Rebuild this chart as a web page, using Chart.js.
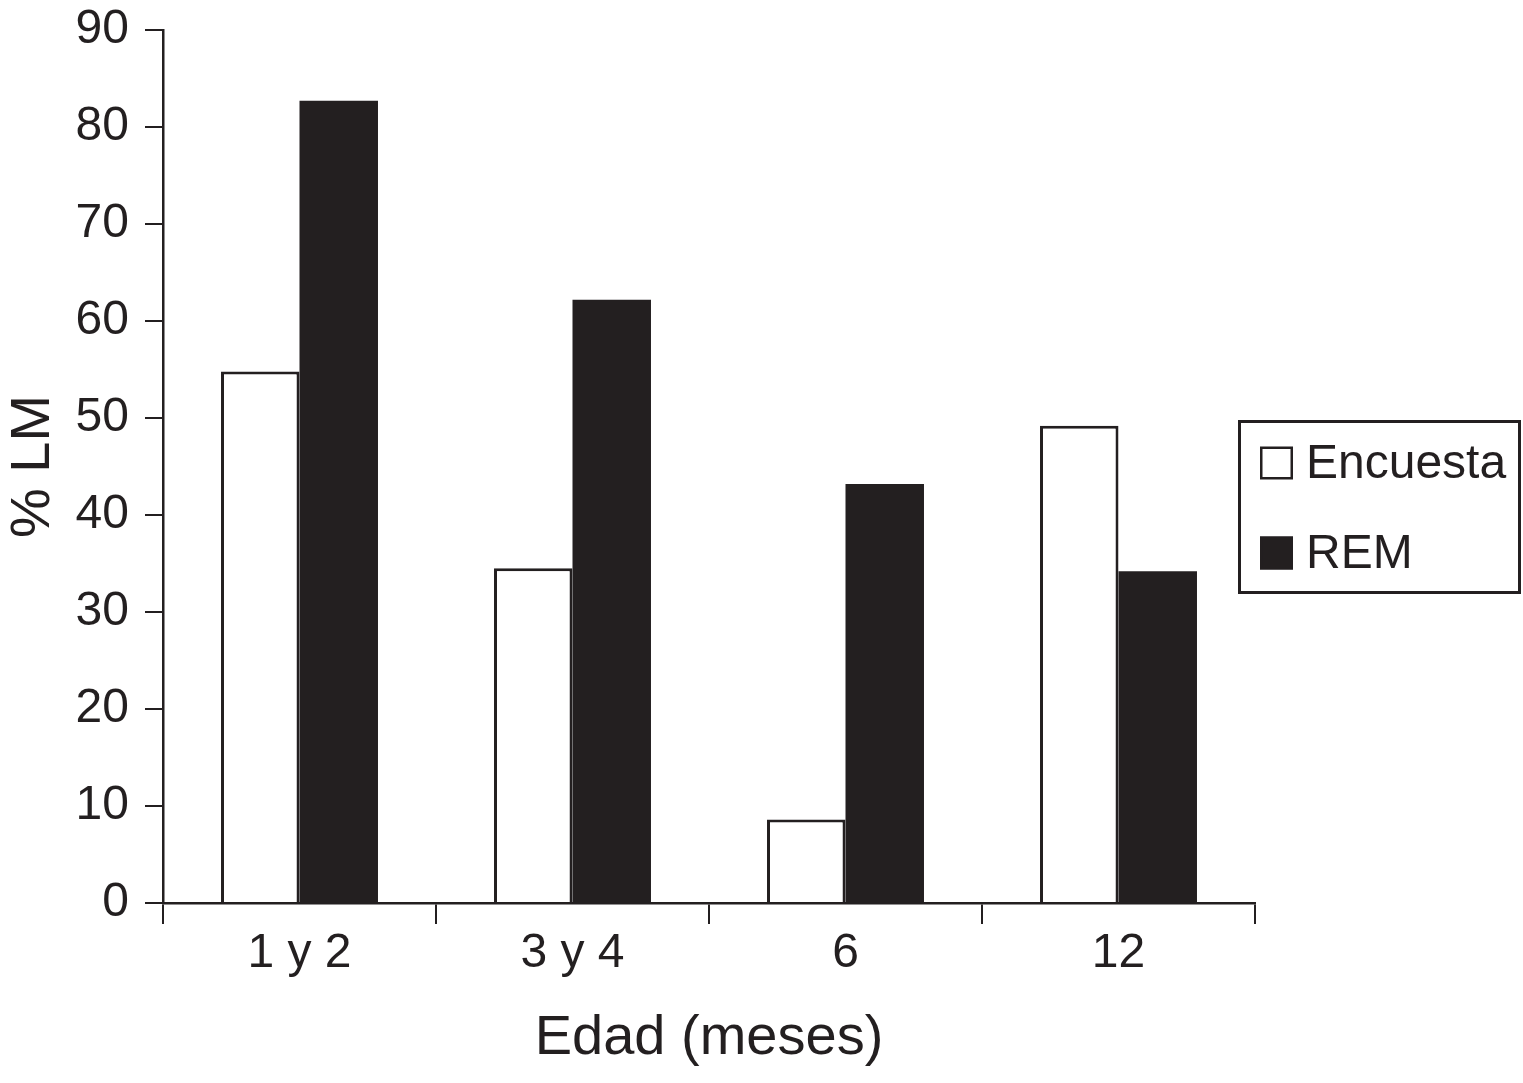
<!DOCTYPE html>
<html>
<head>
<meta charset="utf-8">
<script src="https://cdn.jsdelivr.net/npm/chart.js@4/dist/chart.umd.min.js"></script>
<style>
  html, body { margin: 0; padding: 0; background: #ffffff; }
  #wrap { width: 1523px; height: 1083px; }
</style>
</head>
<body>
<div id="wrap"><canvas id="c" width="1523" height="1083"></canvas></div>
<script>
const categories = ["1 y 2", "3 y 4", "6", "12"];
const seriesNames = ["Encuesta", "REM"];
const encuestaValues = [54.8, 34.5, 8.6, 49.2];
const remValues = [82.7, 62.2, 43.2, 34.2];
const yTickValues = [0, 10, 20, 30, 40, 50, 60, 70, 80, 90];
const xAxisTitle = "Edad (meses)";
const yAxisTitle = "% LM";

const INK = "#231f20";
const FONT = "'Liberation Sans', Arial, Helvetica, sans-serif";

const boxLegend = {
  id: "boxLegend",
  afterDraw(chart) {
    const ctx = chart.ctx;
    const ca = chart.chartArea;
    const left = ca.right - 17;
    const top = ca.top + 390;
    const w = 283, h = 174;
    ctx.save();
    ctx.lineWidth = 3;
    ctx.strokeStyle = INK;
    ctx.strokeRect(left + 1.5, top + 1.5, w - 3, h - 3);
    ctx.font = "48px " + FONT;
    ctx.textBaseline = "middle";
    ctx.textAlign = "left";
    chart.data.datasets.forEach((ds, i) => {
      const cy = top + 43 + i * 90;
      const mx = left + 22, ms = 33;
      ctx.fillStyle = ds.backgroundColor;
      ctx.fillRect(mx, cy - ms / 2, ms, ms);
      ctx.lineWidth = 2.5;
      ctx.strokeStyle = INK;
      ctx.strokeRect(mx + 1.25, cy - ms / 2 + 1.25, ms - 2.5, ms - 2.5);
      ctx.fillStyle = INK;
      ctx.fillText(ds.label, left + 68, cy + 2);
    });
    ctx.restore();
  }
};

new Chart(document.getElementById("c"), {
  type: "bar",
  data: {
    labels: categories,
    datasets: [
      {
        label: seriesNames[0],
        data: encuestaValues,
        backgroundColor: "#ffffff",
        borderColor: INK,
        borderWidth: 3,
        borderSkipped: "bottom"
      },
      {
        label: seriesNames[1],
        data: remValues,
        backgroundColor: INK,
        borderColor: INK,
        borderWidth: 0
      }
    ]
  },
  options: {
    responsive: false,
    animation: false,
    devicePixelRatio: 1,
    layout: { padding: { top: 30, right: 268, bottom: 11, left: 0 } },
    datasets: { bar: { barPercentage: 1.0, categoryPercentage: 0.575 } },
    plugins: {
      legend: { display: false },
      tooltip: { enabled: false }
    },
    scales: {
      x: {
        grid: {
          display: true,
          drawOnChartArea: false,
          drawTicks: true,
          tickLength: 21,
          color: INK,
          lineWidth: 2,
          offset: true
        },
        border: { display: true, color: INK, width: 2.5 },
        ticks: {
          color: INK,
          font: { family: FONT, size: 48 },
          padding: 1,
          maxRotation: 0
        },
        title: {
          display: true,
          text: xAxisTitle,
          color: INK,
          font: { family: FONT, size: 56 },
          padding: 0
        },
        afterFit(scale) { scale.height = 169; scale.paddingLeft = 0; scale.paddingRight = 0; }
      },
      y: {
        min: 0,
        max: 90,
        afterBuildTicks(scale) { scale.ticks = yTickValues.map(v => ({ value: v })); },
        grid: {
          display: true,
          drawOnChartArea: false,
          drawTicks: true,
          tickLength: 18,
          color: INK,
          lineWidth: 2
        },
        border: { display: true, color: INK, width: 2.5 },
        ticks: {
          color: INK,
          font: { family: FONT, size: 48 },
          padding: 16
        },
        title: {
          display: true,
          text: yAxisTitle,
          color: INK,
          font: { family: FONT, size: 56 },
          padding: 0
        },
        afterFit(scale) { scale.width = 163; scale.paddingTop = 0; scale.paddingBottom = 0; }
      }
    }
  },
  plugins: [boxLegend]
});
</script>
</body>
</html>
